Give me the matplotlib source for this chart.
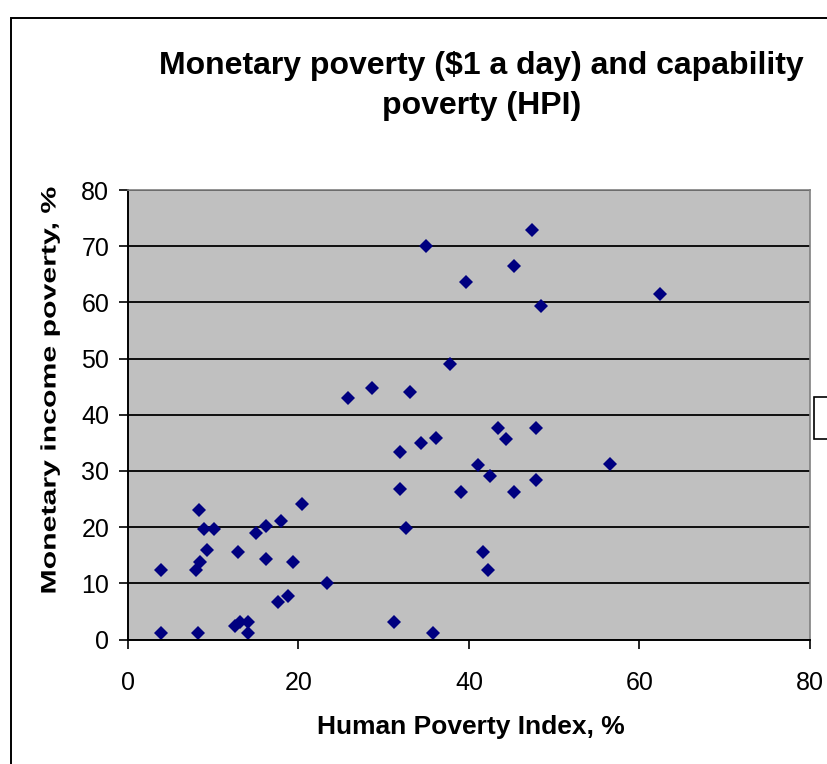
import matplotlib
matplotlib.use("Agg")
import matplotlib.pyplot as plt
from matplotlib.patches import Rectangle, PathPatch
from matplotlib.textpath import TextPath
from matplotlib.font_manager import FontProperties
from matplotlib.transforms import Affine2D

plt.rcParams['font.family'] = ['Liberation Sans', 'DejaVu Sans']

# Human Poverty Index, %
hpi = [3.9, 3.9, 8.0, 8.4, 8.3, 8.9, 10.1, 9.3, 8.2, 12.9,
       12.5, 13.1, 14.1, 14.1, 15.0, 16.2, 16.2, 17.6, 18.0, 18.8,
       19.4, 20.4, 23.4, 25.8, 28.6, 31.2, 31.9, 31.9, 32.6, 33.1,
       34.4, 35.0, 35.8, 36.1, 37.8, 39.1, 39.7, 41.0, 41.7, 42.2,
       42.5, 43.4, 44.3, 45.3, 45.3, 47.4, 47.9, 47.9, 48.5, 56.5,
       62.4]
# Monetary income poverty ($1 a day), %
income = [12.4, 1.1, 12.4, 13.8, 23.1, 19.6, 19.6, 16.0, 1.1, 15.6,
          2.4, 3.2, 3.2, 1.1, 18.9, 20.2, 14.3, 6.7, 21.1, 7.8,
          13.8, 24.2, 10.0, 43.0, 44.8, 3.2, 33.4, 26.7, 19.9, 44.1,
          34.9, 70.0, 1.1, 35.9, 49.1, 26.3, 63.6, 31.0, 15.6, 12.4,
          29.1, 37.7, 35.6, 66.5, 26.3, 72.9, 37.7, 28.4, 59.4, 31.3,
          61.5]

title1 = 'Monetary poverty ($1 a day) and capability'
title2 = 'poverty (HPI)'
xlabel = 'Human Poverty Index, %'
ylabel = 'Monetary income poverty, %'

W, H = 828, 764
fig = plt.figure(figsize=(W / 100, H / 100), dpi=100)
ax = fig.add_axes([128 / W, 124.5 / H, 682 / W, 449.5 / H])
ax.set_facecolor('#C0C0C0')

ax.plot(hpi, income, linestyle='none', marker='D', markersize=6.8,
        color='#000080', markeredgewidth=0)

ax.set_xlim(0, 80)
ax.set_ylim(0, 80)
ax.set_xticks(range(0, 81, 20))
ax.set_yticks(range(0, 81, 10))
ax.yaxis.grid(True, color='black', linewidth=1.3)
ax.set_axisbelow(True)
ax.tick_params(direction='out', length=6.5, width=1.2, labelsize=18,
               color='black', pad=7)
ax.tick_params(axis='x', pad=16)
for s in ['left', 'bottom']:
    ax.spines[s].set_linewidth(1.4)
    ax.spines[s].set_color('black')
for s in ['top', 'right']:
    ax.spines[s].set_linewidth(1.2)
    ax.spines[s].set_color('#808080')

fig.text(471 / W, 30 / H, xlabel, ha='center', va='baseline',
         fontsize=19, fontweight='bold')

fig.text(481 / W, 1 - 74 / H, title1, ha='center', va='baseline',
         fontsize=23, fontweight='bold')
fig.text(482 / W, 1 - 114 / H, title2, ha='center', va='baseline',
         fontsize=23, fontweight='bold')

# y label: Excel stretched the rotated text along its length
fp = FontProperties(family='Liberation Sans', weight='bold')
tp = TextPath((0, 0), ylabel, size=21, prop=fp)
ext = tp.get_extents()
stretch = 405 / ext.width
cap = 0.716 * 21
tr = (Affine2D().translate(-ext.x0 - ext.width / 2, -cap / 2)
      .scale(stretch, 1).rotate_deg(90)
      .translate(48, H - 390).scale(1 / W, 1 / H))
fig.add_artist(PathPatch(tr.transform_path(tp), transform=fig.transFigure,
                         facecolor='black', edgecolor='none'))

# chart area border (runs off the image at right and bottom)
fig.add_artist(Rectangle((11 / W, -0.1), 1.0, (H - 18) / H + 0.1,
                         transform=fig.transFigure, fill=False,
                         edgecolor='black', linewidth=1.4))
# legend box fragment at the right edge
fig.add_artist(Rectangle((814 / W, (H - 439) / H), 0.1, 42 / H,
                         transform=fig.transFigure, facecolor='white',
                         edgecolor='black', linewidth=1.2))

fig.savefig('out.png', dpi=100)
